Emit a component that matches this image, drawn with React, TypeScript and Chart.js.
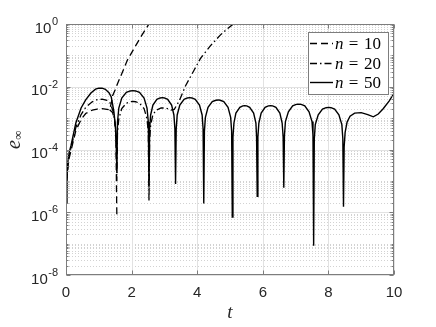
import React, { useEffect, useRef } from 'react';
import { Chart, registerables } from 'chart.js';

Chart.register(...registerables);

// ---- data ----
// n = 10: hump, then the fast-growing branch
const tN10 = [0, 0.03, 0.08, 0.15, 0.3, 0.46, 0.6, 0.8, 0.95, 1.1, 1.25, 1.33, 1.38, 1.42, 1.5, 1.57, 1.7, 1.87, 2.08, 2.3, 2.53, 2.7];
const eN10 = [2e-6, 1.2e-5, 4.5e-5, 9e-5, 4e-4, 9e-4, 1.4e-3, 1.8e-3, 1.95e-3, 2e-3, 1.9e-3, 1.85e-3, 3e-3, 5.2e-3, 8e-3, 1.25e-2, 2.6e-2, 7e-2, 0.17, 0.42, 1.0, 1.5];
// n = 10: the dip at t ~ 1.55
const tN10Dip = [1.33, 1.42, 1.48, 1.52, 1.55];
const eN10Dip = [1.85e-3, 1.5e-3, 9e-4, 3e-4, 8e-7];

const tN20 = [0, 0.03, 0.08, 0.15, 0.3, 0.46, 0.6, 0.8, 0.95, 1.1, 1.25, 1.35, 1.44, 1.5, 1.535, 1.55,
  1.57, 1.61, 1.7, 1.84, 1.96, 2.04, 2.12, 2.24, 2.38, 2.47, 2.51, 2.53,
  2.55, 2.58, 2.65, 2.75, 2.9, 3.05, 3.2, 3.3, 3.45, 3.65, 3.9, 4.1, 4.4, 4.71, 4.95, 5.1, 5.3];
const eN20 = [2e-6, 1.5e-5, 5.5e-5, 1.1e-4, 5e-4, 1.3e-3, 2.2e-3, 3.3e-3, 3.85e-3, 4e-3, 3.7e-3, 3.0e-3, 1.6e-3, 6e-4, 1.2e-4, 1e-5,
  3.4e-4, 9.5e-4, 2.0e-3, 3.0e-3, 3.33e-3, 3.4e-3, 3.33e-3, 3.0e-3, 2.0e-3, 9.5e-4, 3.4e-4, 2.2e-6,
  2e-4, 6e-4, 1.3e-3, 1.8e-3, 2.1e-3, 2.1e-3, 1.8e-3, 1.9e-3, 3.5e-3, 1.1e-2, 3.3e-2, 8e-2, 0.2, 0.45, 0.75, 1.0, 1.4];

const tN50 = [0, 0.03, 0.08, 0.15, 0.3, 0.46, 0.6, 0.76, 0.9, 1.0, 1.1, 1.2, 1.31, 1.38, 1.46, 1.51, 1.535, 1.55,
  1.57, 1.61, 1.7, 1.84, 1.96, 2.04, 2.12, 2.24, 2.38, 2.47, 2.51, 2.53,
  2.55, 2.58, 2.65, 2.77, 2.87, 2.94, 3.0, 3.1, 3.22, 3.29, 3.32, 3.34,
  3.36, 3.39, 3.47, 3.6, 3.7, 3.77, 3.84, 3.94, 4.07, 4.15, 4.18, 4.2,
  4.22, 4.25, 4.33, 4.46, 4.57, 4.64, 4.7, 4.81, 4.94, 5.02, 5.05, 5.07,
  5.09, 5.12, 5.18, 5.3, 5.39, 5.45, 5.51, 5.6, 5.72, 5.79, 5.81, 5.83,
  5.85, 5.88, 5.95, 6.07, 6.17, 6.24, 6.3, 6.4, 6.52, 6.59, 6.62, 6.64,
  6.66, 6.69, 6.78, 6.91, 7.02, 7.1, 7.17, 7.28, 7.41, 7.5, 7.53, 7.55,
  7.57, 7.6, 7.69, 7.82, 7.93, 8.01, 8.08, 8.19, 8.32, 8.41, 8.44, 8.46,
  8.48, 8.51, 8.57, 8.66, 8.8, 9.0, 9.2, 9.37, 9.52, 9.67, 9.85, 10];
const eN50 = [2e-6, 2e-5, 7e-5, 1.3e-4, 7e-4, 2.1e-3, 3.8e-3, 6.3e-3, 8.4e-3, 9.0e-3, 9.0e-3, 8.3e-3, 6.5e-3, 4.7e-3, 1.6e-3, 5e-4, 1.2e-4, 1.8e-5,
  7.5e-4, 2.1e-3, 4.35e-3, 6.6e-3, 7.35e-3, 7.5e-3, 7.35e-3, 6.6e-3, 4.35e-3, 2.1e-3, 7.5e-4, 6e-6,
  4.5e-4, 1.26e-3, 2.6e-3, 4.0e-3, 4.4e-3, 4.5e-3, 4.4e-3, 4.0e-3, 2.6e-3, 1.26e-3, 4.5e-4, 8e-6,
  4.5e-4, 1.26e-3, 2.6e-3, 4.0e-3, 4.4e-3, 4.5e-3, 4.4e-3, 4.0e-3, 2.6e-3, 1.26e-3, 4.5e-4, 1.9e-6,
  3.8e-4, 1.06e-3, 2.2e-3, 3.35e-3, 3.7e-3, 3.8e-3, 3.7e-3, 3.35e-3, 2.2e-3, 1.06e-3, 3.8e-4, 7e-7,
  2.5e-4, 7e-4, 1.45e-3, 2.2e-3, 2.45e-3, 2.5e-3, 2.45e-3, 2.2e-3, 1.45e-3, 7e-4, 2.5e-4, 3.2e-6,
  2.5e-4, 7e-4, 1.45e-3, 2.2e-3, 2.45e-3, 2.5e-3, 2.45e-3, 2.2e-3, 1.45e-3, 7e-4, 2.5e-4, 6e-6,
  2.8e-4, 7.8e-4, 1.6e-3, 2.45e-3, 2.75e-3, 2.8e-3, 2.75e-3, 2.45e-3, 1.6e-3, 7.8e-4, 2.8e-4, 8.5e-8,
  2.2e-4, 6.2e-4, 1.28e-3, 1.95e-3, 2.15e-3, 2.2e-3, 2.15e-3, 1.95e-3, 1.28e-3, 6.2e-4, 2.2e-4, 1.5e-6,
  1.2e-4, 3.5e-4, 7.5e-4, 1.15e-3, 1.45e-3, 1.5e-3, 1.3e-3, 1.1e-3, 1.35e-3, 2.0e-3, 3.5e-3, 6.2e-3];

const seriesLabels = ['10', '20', '50'];
const xTicks = [0, 2, 4, 6, 8, 10];
const yMajorExps = [0, -2, -4, -6, -8];
const yMinorExps = [-1, -3, -5, -7];
const yMinorMults = [2, 3, 4, 5, 6, 7, 8, 9];

const TXT = '#262626';
const SANS = '"Liberation Sans", Arial, Helvetica, sans-serif';
const SERIF = '"Liberation Serif", "DejaVu Serif", serif';

const dashes: number[][] = [[7, 4], [7, 3, 1.5, 3], []];

function toPts(t: number[], e: number[]) {
  return t.map((x, i) => ({ x, y: e[i] }));
}

function minorValues(): number[] {
  const vals: number[] = [];
  for (let k = -8; k < 0; k++) for (const m of yMinorMults) vals.push(m * Math.pow(10, k));
  for (const k of yMinorExps) vals.push(Math.pow(10, k));
  return vals;
}

const framePlugin = {
  id: 'frame',
  beforeDatasetsDraw(chart: any) {
    const { ctx, chartArea: a, scales } = chart;
    const xs = scales.x, ys = scales.y;
    ctx.save();
    ctx.lineWidth = 1;
    ctx.strokeStyle = '#d2d2d2';
    ctx.setLineDash([1, 2]);
    for (const v of minorValues()) {
      const y = Math.round(ys.getPixelForValue(v)) + 0.5;
      ctx.beginPath(); ctx.moveTo(a.left, y); ctx.lineTo(a.right, y); ctx.stroke();
    }
    ctx.setLineDash([]);
    ctx.strokeStyle = '#e2e2e2';
    for (const k of yMajorExps) {
      const y = Math.round(ys.getPixelForValue(Math.pow(10, k))) + 0.5;
      ctx.beginPath(); ctx.moveTo(a.left, y); ctx.lineTo(a.right, y); ctx.stroke();
    }
    for (const v of xTicks) {
      const x = Math.round(xs.getPixelForValue(v)) + 0.5;
      ctx.beginPath(); ctx.moveTo(x, a.top); ctx.lineTo(x, a.bottom); ctx.stroke();
    }
    ctx.restore();
  },
  afterDatasetsDraw(chart: any) {
    const { ctx, chartArea: a, scales } = chart;
    const xs = scales.x, ys = scales.y;
    ctx.save();
    const L = Math.round(a.left) + 0.5, R = Math.round(a.right) - 0.5;
    const T = Math.round(a.top) + 0.5, B = Math.round(a.bottom) - 0.5;
    ctx.strokeStyle = '#7d7d7d';
    ctx.lineWidth = 1;
    ctx.setLineDash([]);
    ctx.strokeRect(L, T, R - L, B - T);
    ctx.beginPath();
    for (const v of xTicks) {
      const x = Math.round(xs.getPixelForValue(v)) + 0.5;
      ctx.moveTo(x, B); ctx.lineTo(x, B - 4);
      ctx.moveTo(x, T); ctx.lineTo(x, T + 4);
    }
    for (const k of yMajorExps) {
      const y = Math.round(ys.getPixelForValue(Math.pow(10, k))) + 0.5;
      ctx.moveTo(L, y); ctx.lineTo(L + 4, y);
      ctx.moveTo(R, y); ctx.lineTo(R - 4, y);
    }
    for (const v of minorValues()) {
      const y = Math.round(ys.getPixelForValue(v)) + 0.5;
      ctx.moveTo(L, y); ctx.lineTo(L + 2, y);
      ctx.moveTo(R, y); ctx.lineTo(R - 2, y);
    }
    ctx.stroke();

    ctx.fillStyle = TXT;
    ctx.font = `15px ${SANS}`;
    ctx.textAlign = 'center';
    ctx.textBaseline = 'alphabetic';
    for (const v of xTicks) {
      ctx.fillText(String(v), xs.getPixelForValue(v), a.bottom + 22);
    }
    for (const k of yMajorExps) {
      const y = ys.getPixelForValue(Math.pow(10, k));
      const sup = String(k);
      ctx.font = `11px ${SANS}`;
      const sw = ctx.measureText(sup).width;
      const right = a.left - 8;
      ctx.textAlign = 'left';
      ctx.fillText(sup, right - sw, y + 1);
      ctx.font = `15px ${SANS}`;
      ctx.textAlign = 'right';
      ctx.fillText('10', right - sw - 0.5, y + 8.5);
    }
    ctx.textAlign = 'center';
    ctx.font = `italic 19px ${SERIF}`;
    ctx.fillText('t', 230, 318);
    ctx.save();
    ctx.translate(20, 140);
    ctx.rotate(-Math.PI / 2);
    ctx.textAlign = 'left';
    ctx.font = `italic 20px ${SERIF}`;
    const ew = ctx.measureText('e').width;
    ctx.font = `13px ${SERIF}`;
    const iw = ctx.measureText('\u221E').width;
    const start = -(ew + iw) / 2;
    ctx.font = `italic 20px ${SERIF}`;
    ctx.fillText('e', start, 0);
    ctx.font = `13px ${SERIF}`;
    ctx.fillText('\u221E', start + ew + 0.5, 2);
    ctx.restore();

    // legend
    const bx = 308.5, by = 32.5, bw = 80, bh = 62;
    ctx.fillStyle = '#ffffff';
    ctx.fillRect(bx, by, bw, bh);
    ctx.strokeStyle = '#7d7d7d';
    ctx.lineWidth = 1;
    ctx.strokeRect(bx, by, bw, bh);
    const rowsY = [43.5, 63.5, 82.5];
    chart.data.datasets.forEach((ds: any, i: number) => {
      const yy = rowsY[i];
      ctx.strokeStyle = ds.borderColor;
      ctx.lineWidth = ds.borderWidth;
      ctx.setLineDash(ds.borderDash || []);
      ctx.beginPath(); ctx.moveTo(310, yy); ctx.lineTo(333, yy); ctx.stroke();
      ctx.setLineDash([]);
      ctx.fillStyle = '#000';
      ctx.textAlign = 'left';
      ctx.font = `italic 17px ${SERIF}`;
      ctx.fillText('n', 335, yy + 5);
      ctx.font = `17px ${SERIF}`;
      ctx.textAlign = 'center';
      ctx.fillText('=', 353.5, yy + 5);
      ctx.textAlign = 'left';
      ctx.fillText(seriesLabels[i], 364, yy + 5);
    });
    ctx.restore();
  },
};

export default function App() {
  const ref = useRef<HTMLCanvasElement | null>(null);
  useEffect(() => {
    document.body.style.margin = '0';
    const canvas = ref.current;
    if (!canvas) return;
    const n10Data: any[] = [
      ...toPts(tN10, eN10),
      { x: tN10[tN10.length - 1], y: null },
      ...toPts(tN10Dip, eN10Dip),
    ];
    const chart = new Chart(canvas, {
      type: 'line',
      data: {
        datasets: [
          { label: 'n = 10', data: n10Data, borderColor: '#000', borderWidth: 1.3, borderDash: dashes[0], pointRadius: 0, fill: false, tension: 0, spanGaps: false },
          { label: 'n = 20', data: toPts(tN20, eN20), borderColor: '#000', borderWidth: 1.3, borderDash: dashes[1], pointRadius: 0, fill: false, tension: 0 },
          { label: 'n = 50', data: toPts(tN50, eN50), borderColor: '#000', borderWidth: 1.4, borderDash: dashes[2], pointRadius: 0, fill: false, tension: 0 },
        ],
      },
      options: {
        responsive: false,
        animation: false,
        devicePixelRatio: 1,
        layout: { padding: { left: 66, top: 24, right: 42, bottom: 52 } },
        plugins: { legend: { display: false }, tooltip: { enabled: false } },
        scales: {
          x: { type: 'linear', min: 0, max: 10, display: false },
          y: { type: 'logarithmic', min: 1e-8, max: 1, display: false },
        },
      } as any,
      plugins: [framePlugin as any],
    });
    return () => chart.destroy();
  }, []);
  return (
    <div style={{ width: 436, height: 327, background: '#fff' }}>
      <canvas ref={ref} width={436} height={327} />
    </div>
  );
}
